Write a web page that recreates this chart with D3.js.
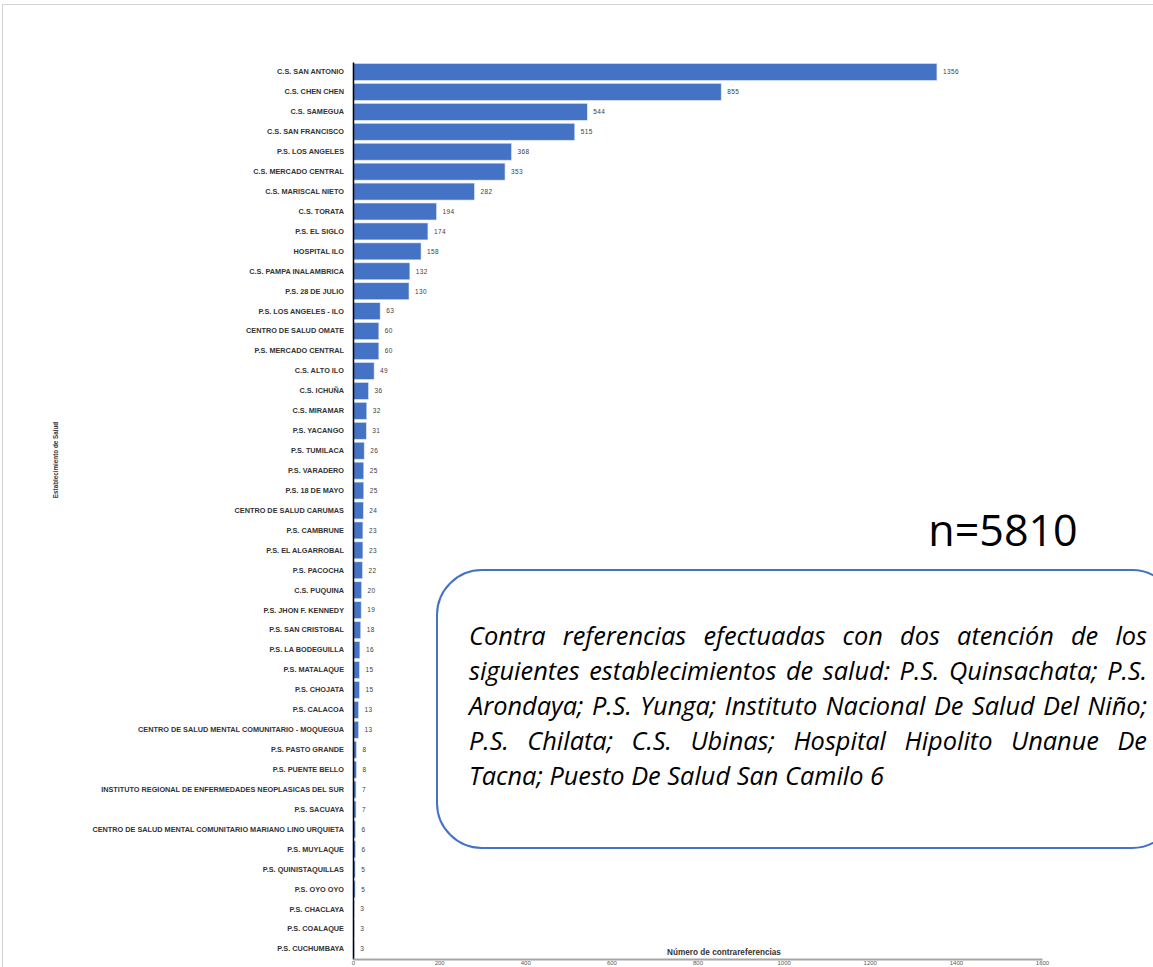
<!DOCTYPE html>
<html>
<head>
<meta charset="utf-8">
<script src="https://cdn.jsdelivr.net/npm/d3@7"></script>
<style>
  html, body { margin: 0; padding: 0; background: #fff; }
  svg { display: block; }
</style>
</head>
<body>
<svg id="chart" width="1153" height="967"></svg>
<script>
// establecimientos, en el orden del gráfico
const establecimientos = [
  "C.S. SAN ANTONIO", "C.S. CHEN CHEN", "C.S. SAMEGUA", "C.S. SAN FRANCISCO",
  "P.S. LOS ANGELES", "C.S. MERCADO CENTRAL", "C.S. MARISCAL NIETO", "C.S. TORATA",
  "P.S. EL SIGLO", "HOSPITAL ILO", "C.S. PAMPA INALAMBRICA", "P.S. 28 DE JULIO",
  "P.S. LOS ANGELES - ILO", "CENTRO DE SALUD OMATE", "P.S. MERCADO CENTRAL", "C.S. ALTO ILO",
  "C.S. ICHUÑA", "C.S. MIRAMAR", "P.S. YACANGO", "P.S. TUMILACA", "P.S. VARADERO",
  "P.S. 18 DE MAYO", "CENTRO DE SALUD CARUMAS", "P.S. CAMBRUNE", "P.S. EL ALGARROBAL",
  "P.S. PACOCHA", "C.S. PUQUINA", "P.S. JHON F. KENNEDY", "P.S. SAN CRISTOBAL",
  "P.S. LA BODEGUILLA", "P.S. MATALAQUE", "P.S. CHOJATA", "P.S. CALACOA",
  "CENTRO DE SALUD MENTAL COMUNITARIO - MOQUEGUA", "P.S. PASTO GRANDE", "P.S. PUENTE BELLO",
  "INSTITUTO REGIONAL DE ENFERMEDADES NEOPLASICAS DEL SUR", "P.S. SACUAYA",
  "CENTRO DE SALUD MENTAL COMUNITARIO MARIANO LINO URQUIETA", "P.S. MUYLAQUE",
  "P.S. QUINISTAQUILLAS", "P.S. OYO OYO", "P.S. CHACLAYA", "P.S. COALAQUE", "P.S. CUCHUMBAYA"
];

const contrareferencias = [
  1356, 855, 544, 515, 368, 353, 282, 194, 174, 158, 132, 130,
  63, 60, 60, 49, 36, 32, 31, 26, 25, 25, 24, 23, 23, 22, 20,
  19, 18, 16, 15, 15, 13, 13, 8, 8, 7, 7, 6, 6, 5, 5, 3, 3, 3
];

const xTicks = [0, 200, 400, 600, 800, 1000, 1200, 1400, 1600];

const nota = [
  "Contra referencias efectuadas con dos atención de los",
  "siguientes establecimientos de salud: P.S. Quinsachata; P.S.",
  "Arondaya; P.S. Yunga; Instituto Nacional De Salud Del Niño;",
  "P.S. Chilata; C.S. Ubinas; Hospital Hipolito Unanue De",
  "Tacna; Puesto De Salud San Camilo 6"
];

const total = "n=5810";

const data = establecimientos.map((e, i) => ({ label: e, value: contrareferencias[i] }));

const svg = d3.select("#chart");
const W = 1153, H = 967;

svg.append("rect").attr("width", W).attr("height", H).attr("fill", "#fff");

// marco gris claro
svg.append("line").attr("x1", 2).attr("x2", W).attr("y1", 4.5).attr("y2", 4.5)
  .attr("stroke", "#d4d4d4").attr("stroke-width", 1);
svg.append("line").attr("x1", 2.5).attr("x2", 2.5).attr("y1", 4).attr("y2", H)
  .attr("stroke", "#d4d4d4").attr("stroke-width", 1);

const plotL = 353, plotR = 1042, plotT = 62, plotB = 959;

const x = d3.scaleLinear().domain([0, 1600]).range([plotL, plotR]);
const y = d3.scaleBand().domain(establecimientos).range([plotT, plotB])
  .paddingInner(0.15).paddingOuter(0.075);

// barras
svg.append("g").selectAll("rect")
  .data(data)
  .enter()
  .append("rect")
  .attr("x", x(0))
  .attr("y", d => y(d.label))
  .attr("width", d => x(d.value) - x(0))
  .attr("height", y.bandwidth())
  .attr("fill", "#4472C4")
  .attr("stroke", "#dbe4f5")
  .attr("stroke-width", 0.6);

// etiquetas de valor
svg.append("g").selectAll("text")
  .data(data)
  .enter()
  .append("text")
  .attr("x", d => x(d.value) + 6)
  .attr("y", d => y(d.label) + y.bandwidth() / 2)
  .attr("dy", "0.35em")
  .attr("font-family", "Liberation Sans, Arial, sans-serif")
  .attr("font-size", 6.5)
  .attr("letter-spacing", 0.4)
  .attr("fill", "#404040")
  .text(d => d.value);

// eje y
const yAxis = svg.append("g")
  .attr("transform", `translate(${plotL},0)`)
  .call(d3.axisLeft(y).tickSize(0).tickPadding(9).tickSizeOuter(0));
yAxis.select(".domain").attr("stroke", "#000").attr("stroke-width", 1.5);
yAxis.selectAll("text")
  .attr("font-family", "Liberation Sans, Arial, sans-serif")
  .attr("font-size", 7.3)
  .attr("font-weight", "bold")
  .attr("fill", "#333");

// eje x
const xAxis = svg.append("g")
  .attr("transform", `translate(0,${plotB})`)
  .call(d3.axisBottom(x).tickValues(xTicks).tickFormat(d3.format("d"))
    .tickSize(0).tickPadding(2).tickSizeOuter(0));
xAxis.select(".domain").attr("stroke", "#a6a6a6").attr("stroke-width", 2);
xAxis.selectAll("text")
  .attr("font-family", "Liberation Sans, Arial, sans-serif")
  .attr("font-size", 6)
  .attr("fill", "#595959");

// títulos de ejes
svg.append("text")
  .attr("x", 724)
  .attr("y", 955)
  .attr("text-anchor", "middle")
  .attr("font-family", "Liberation Sans, Arial, sans-serif")
  .attr("font-size", 8.2)
  .attr("font-weight", "bold")
  .attr("fill", "#333")
  .text("Número de contrareferencias");

svg.append("text")
  .attr("transform", "translate(58,460) rotate(-90)")
  .attr("text-anchor", "middle")
  .attr("font-family", "Liberation Sans, Arial, sans-serif")
  .attr("font-size", 6.3)
  .attr("font-weight", "bold")
  .attr("fill", "#333")
  .text("Establecimiento de Salud");

// n total
svg.append("text")
  .attr("x", 1003)
  .attr("y", 546)
  .attr("text-anchor", "middle")
  .attr("font-family", "Open Sans, sans-serif")
  .attr("font-size", 43)
  .attr("fill", "#000")
  .text(total);

// cuadro de nota
svg.append("rect")
  .attr("x", 437).attr("y", 570)
  .attr("width", 740).attr("height", 278)
  .attr("rx", 45).attr("ry", 45)
  .attr("fill", "#fff")
  .attr("stroke", "#4472C4")
  .attr("stroke-width", 2);

const noteLeft = 469, noteRight = 1147, firstBase = 645, lineH = 35;
const noteG = svg.append("g")
  .attr("font-family", "Open Sans, sans-serif")
  .attr("font-style", "italic")
  .attr("font-size", 20)
  .attr("fill", "#000");

// ajustar tamaño para que la última línea mida como en el original
const probe = noteG.append("text").text(nota[nota.length - 1]);
const fs = 20 * 415 / probe.node().getComputedTextLength();
probe.remove();
noteG.attr("font-size", fs);

// texto justificado
nota.forEach((line, i) => {
  const words = line.split(" ");
  const by = firstBase + i * lineH;
  const nodes = words.map(w => noteG.append("text").attr("y", by).text(w));
  const widths = nodes.map(n => n.node().getComputedTextLength());
  const sum = d3.sum(widths);
  const last = i === nota.length - 1;
  const gap = last ? fs * 0.26 : (noteRight - noteLeft - sum) / (words.length - 1);
  let cx = noteLeft;
  nodes.forEach((n, j) => {
    n.attr("x", cx);
    cx += widths[j] + gap;
  });
});
</script>
</body>
</html>
